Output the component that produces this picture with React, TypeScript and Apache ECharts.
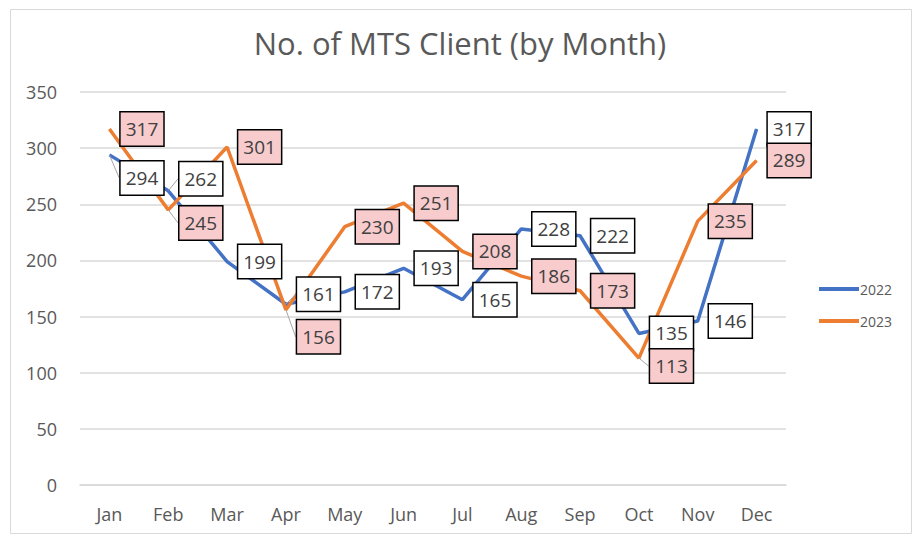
import React, { useEffect, useRef } from "react";
import * as echarts from "echarts";

const months = ["Jan", "Feb", "Mar", "Apr", "May", "Jun", "Jul", "Aug", "Sep", "Oct", "Nov", "Dec"];
const clients2022 = [294, 262, 199, 161, 172, 193, 165, 228, 222, 135, 146, 317];
const clients2023 = [317, 245, 301, 156, 230, 251, 208, 186, 173, 113, 235, 289];
// vertical label displacement (px) as placed in the reference
const shift2022 = [23, -12, 0, -10, 0, 0, 0, 0, 0, 0, 0, 0];
const shift2023 = [0, 13, 0, 27, 0, 0, 0, 0, 0, 8, 0, 0];
const yTicks = [0, 50, 100, 150, 200, 250, 300, 350];

const FONT = "'Open Sans', 'Noto Sans', sans-serif";

export default function App() {
  const ref = useRef<HTMLDivElement>(null);
  useEffect(() => {
    if (!ref.current) return;
    const chart = echarts.init(ref.current, null, { renderer: "svg" });
    const mk = (vals: number[], shifts: number[]) =>
      vals.map((v, i) => ({ value: v, labelLine: { show: shifts[i] !== 0 } }));
    const labelStyle = (bg: string) => ({
      show: true,
      position: "right",
      distance: 11,
      fontFamily: FONT,
      fontSize: 19,
      color: "#404040",
      backgroundColor: bg,
      borderColor: "#000",
      borderWidth: 1.5,
      padding: [5, 5, 4, 5],
      lineHeight: 24,
    });
    chart.setOption({
      animation: false,
      textStyle: { fontFamily: FONT },
      title: {
        text: "No. of MTS Client (by Month)",
        left: "center",
        top: 22,
        textStyle: { fontFamily: FONT, fontSize: 31, fontWeight: "normal", color: "#595959" },
      },
      graphic: [
        {
          type: "rect",
          shape: { x: 10.5, y: 9.5, width: 901, height: 524 },
          style: { fill: "none", stroke: "#d9d9d9", lineWidth: 1 },
          silent: true,
        },
      ],
      legend: {
        orient: "vertical",
        left: 814,
        top: 277,
        itemWidth: 40,
        itemHeight: 4,
        itemGap: 18,
        icon: "rect",
        textStyle: { fontFamily: FONT, fontSize: 14, color: "#595959", padding: [0, 0, 0, -4] },
        data: ["2022", "2023"],
      },
      grid: { left: 80, right: 134, top: 92, bottom: 52 },
      xAxis: {
        type: "category",
        data: months,
        boundaryGap: true,
        axisLine: { show: true, lineStyle: { color: "#d9d9d9", width: 1.5 } },
        axisTick: { show: false },
        axisLabel: { fontFamily: FONT, fontSize: 18, color: "#595959", margin: 20 },
      },
      yAxis: {
        type: "value",
        min: yTicks[0],
        max: yTicks[yTicks.length - 1],
        interval: 50,
        axisLine: { show: false },
        axisTick: { show: false },
        splitLine: { lineStyle: { color: "#d9d9d9", width: 1.5 } },
        axisLabel: { fontFamily: FONT, fontSize: 18, color: "#595959", margin: 23 },
      },
      series: [
        {
          name: "2022",
          type: "line",
          data: mk(clients2022, shift2022),
          showSymbol: true,
          symbol: "circle",
          symbolSize: 0.5,
          lineStyle: { color: "#4472C4", width: 3.5 },
          itemStyle: { color: "#4472C4" },
          label: labelStyle("#ffffff"),
          labelLine: { lineStyle: { color: "#a6a6a6", width: 1 } },
          labelLayout: (p: any) => ({ dy: shift2022[p.dataIndex] }),
          z: 2,
        },
        {
          name: "2023",
          type: "line",
          data: mk(clients2023, shift2023),
          showSymbol: true,
          symbol: "circle",
          symbolSize: 0.5,
          lineStyle: { color: "#ED7D31", width: 3.5 },
          itemStyle: { color: "#ED7D31" },
          label: labelStyle("#f8cbcd"),
          labelLine: { lineStyle: { color: "#a6a6a6", width: 1 } },
          labelLayout: (p: any) => ({ dy: shift2023[p.dataIndex] }),
          z: 2,
        },
      ],
    });
    return () => chart.dispose();
  }, []);
  return (
    <div
      ref={ref}
      style={{ position: "fixed", left: 0, top: 0, width: 920, height: 537, background: "#fff" }}
    />
  );
}
